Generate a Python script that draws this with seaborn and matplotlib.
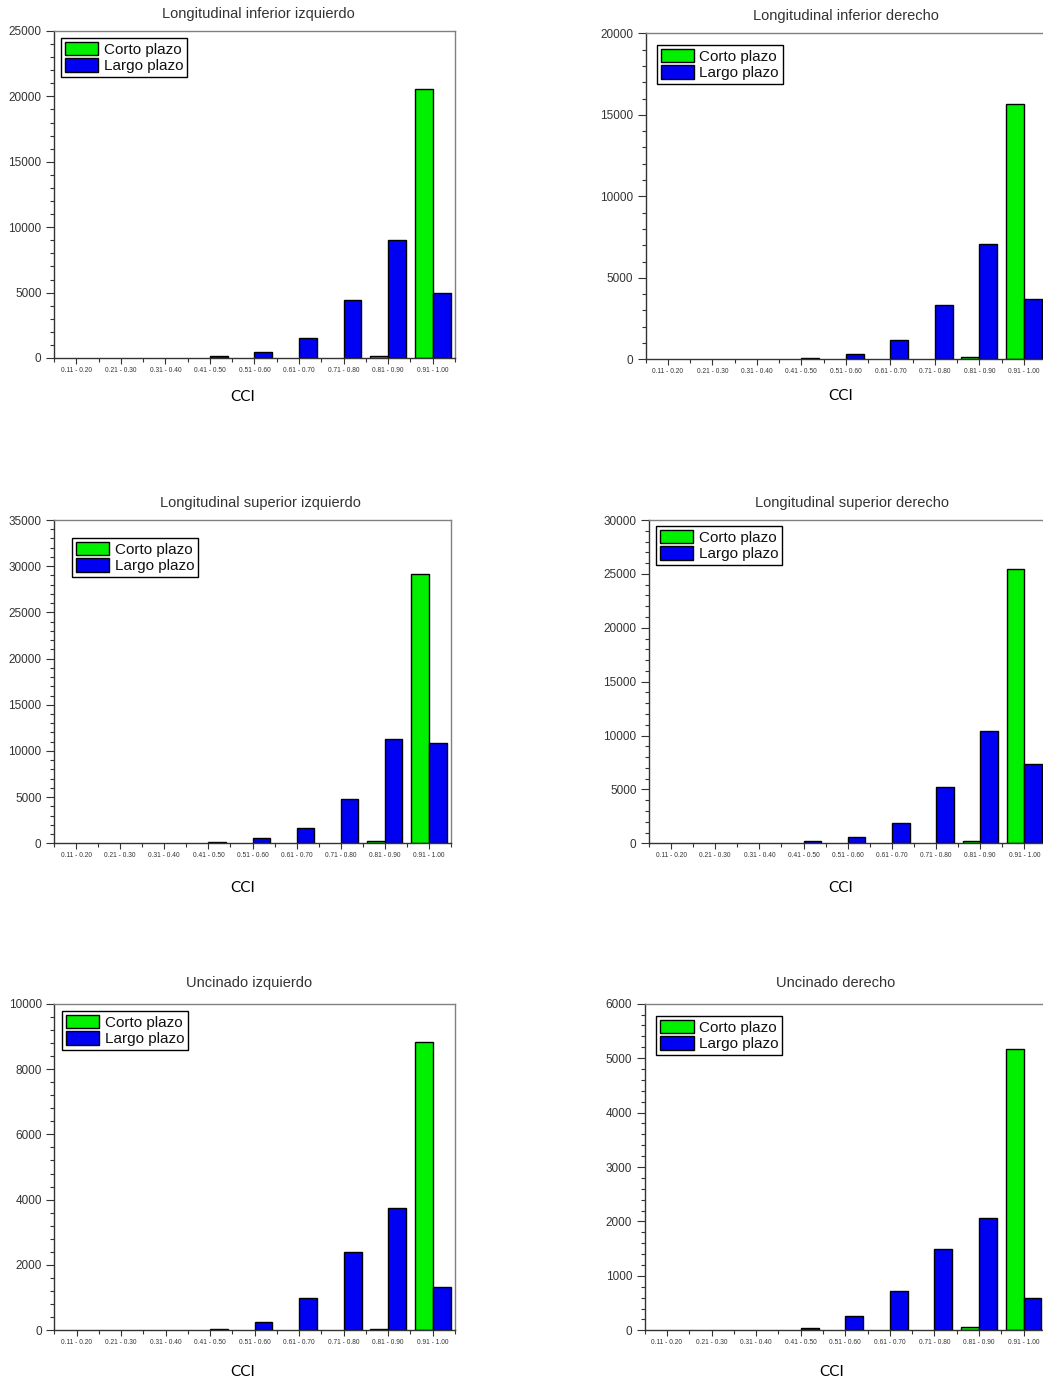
import matplotlib
matplotlib.use("Agg")
import matplotlib.pyplot as plt
from matplotlib.ticker import MultipleLocator, FixedLocator
import numpy as np
import pandas as pd
import seaborn as sns

# CCI bins shared by every panel
categories = ['0.11 - 0.20', '0.21 - 0.30', '0.31 - 0.40', '0.41 - 0.50',
              '0.51 - 0.60', '0.61 - 0.70', '0.71 - 0.80', '0.81 - 0.90',
              '0.91 - 1.00']
series_names = ['Corto plazo', 'Largo plazo']

# Counts per tract
lii_corto = [0, 0, 0, 0, 0, 0, 0, 130, 20530]
lii_largo = [0, 0, 0, 130, 490, 1560, 4450, 9010, 4980]

lid_corto = [0, 0, 0, 0, 0, 0, 0, 120, 15670]
lid_largo = [0, 0, 0, 60, 310, 1190, 3330, 7060, 3700]

lsi_corto = [0, 0, 0, 0, 0, 0, 0, 220, 29150]
lsi_largo = [0, 0, 0, 100, 540, 1620, 4840, 11260, 10830]

lsd_corto = [0, 0, 0, 0, 0, 0, 0, 190, 25450]
lsd_largo = [0, 0, 0, 190, 590, 1890, 5230, 10390, 7330]

ui_corto = [0, 0, 0, 0, 0, 0, 0, 30, 8820]
ui_largo = [0, 0, 0, 50, 250, 980, 2400, 3740, 1340]

ud_corto = [0, 0, 0, 0, 0, 0, 0, 60, 5160]
ud_largo = [0, 0, 0, 50, 260, 720, 1490, 2060, 590]

titles = ['Longitudinal inferior izquierdo', 'Longitudinal inferior derecho',
          'Longitudinal superior izquierdo', 'Longitudinal superior derecho',
          'Uncinado izquierdo', 'Uncinado derecho']
corto_values = [lii_corto, lid_corto, lsi_corto, lsd_corto, ui_corto, ud_corto]
largo_values = [lii_largo, lid_largo, lsi_largo, lsd_largo, ui_largo, ud_largo]
y_max = [25000, 20000, 35000, 30000, 10000, 6000]
y_step = [5000, 5000, 5000, 5000, 2000, 1000]

# Layout in pixels: axes box (x0, x1, ytop, ybottom), title centre, legend corner, xlabel centre
W, H = 1043, 1384
layout = [
    dict(box=(54, 455, 31, 358), title=(258, 14), legend=(61, 38), xlab=(243, 397)),
    dict(box=(645.7, 1046, 33.3, 359.3), title=(846, 15.7), legend=(656.7, 45), xlab=(840.5, 396.5)),
    dict(box=(54, 451, 520, 843.3), title=(260, 503.3), legend=(72, 537.7), xlab=(243, 887.5)),
    dict(box=(649, 1046.4, 520, 843.3), title=(851.7, 503.3), legend=(656, 526), xlab=(840.5, 887.5)),
    dict(box=(54.3, 455, 1003.7, 1330.3), title=(249.3, 983.3), legend=(62, 1010.7), xlab=(243, 1372.5)),
    dict(box=(644.7, 1045.8, 1003.7, 1330.3), title=(836, 983.3), legend=(656.3, 1016), xlab=(831.3, 1372.5)),
]

sns.set_theme(style="white")
plt.rcParams['font.family'] = ['Liberation Sans', 'DejaVu Sans']

palette = {'Corto plazo': '#00f000', 'Largo plazo': '#0000f2'}
text_gray = '#333333'

fig = plt.figure(figsize=(W / 100, H / 100), dpi=100)
fig.patch.set_facecolor('white')

for i in range(6):
    lay = layout[i]
    x0, x1, yt, yb = lay['box']
    ax = fig.add_axes([x0 / W, 1 - yb / H, (x1 - x0) / W, (yb - yt) / H])

    df = pd.DataFrame({
        'CCI': categories * 2,
        'valor': list(corto_values[i]) + list(largo_values[i]),
        'plazo': [series_names[0]] * len(categories) + [series_names[1]] * len(categories),
    })
    sns.barplot(data=df, x='CCI', y='valor', hue='plazo', order=categories,
                hue_order=series_names, palette=palette, saturation=1,
                width=0.8, edgecolor='black', linewidth=1.0, ax=ax,
                errorbar=None)

    ax.set_xlim(-0.5, len(categories) - 0.5)
    ax.set_ylim(0, y_max[i])
    ax.yaxis.set_major_locator(MultipleLocator(y_step[i]))
    ax.yaxis.set_minor_locator(MultipleLocator(y_step[i] / 5))
    ax.xaxis.set_minor_locator(FixedLocator(np.arange(-0.5, len(categories), 1.0)))

    ax.tick_params(axis='y', which='major', direction='out', length=6, width=0.8,
                   color='#333333', labelsize=8.5, labelcolor=text_gray, pad=3, left=True)
    ax.tick_params(axis='y', which='minor', direction='out', length=3, width=0.8,
                   color='#333333', left=True)
    ax.tick_params(axis='x', which='major', direction='out', length=4, width=0.8,
                   color='#333333', labelsize=4.8, labelcolor=text_gray, pad=2.5, bottom=True)
    ax.tick_params(axis='x', which='minor', direction='out', length=3, width=0.8,
                   color='#333333', bottom=True)

    for side in ['left', 'bottom']:
        ax.spines[side].set_color('#333333')
        ax.spines[side].set_linewidth(1.0)
    for side in ['top', 'right']:
        ax.spines[side].set_color('#808080')
        ax.spines[side].set_linewidth(1.0)

    # title
    tx, ty = lay['title']
    ax.set_title(titles[i], fontsize=10.5, color=text_gray, pad=0,
                 x=(tx - x0) / (x1 - x0), y=1 + (yt - ty) / (yb - yt), va='center')

    # x label
    ax.set_xlabel('CCI', fontsize=11, family=['Lato', 'DejaVu Sans'], color='black')
    lx, ly = lay['xlab']
    ax.xaxis.set_label_coords((lx - x0) / (x1 - x0), -(ly - yb) / (yb - yt))
    ax.xaxis.label.set_va('center')
    ax.set_ylabel('')

    # legend (built before empty bins are hidden so its swatches stay visible)
    handles, labels = ax.get_legend_handles_labels()
    if ax.get_legend() is not None:
        ax.get_legend().remove()
    gx, gy = lay['legend']
    leg = ax.legend(handles, labels, loc='upper left',
                    bbox_to_anchor=((gx - x0) / (x1 - x0), 1 - (gy - yt) / (yb - yt)),
                    borderaxespad=0, frameon=True, fancybox=False, framealpha=1,
                    edgecolor='black', fontsize=11, handlelength=2.2,
                    handleheight=1.0, handletextpad=0.35, labelspacing=0.1,
                    borderpad=0.25)
    leg.get_frame().set_linewidth(1.0)
    for t in leg.get_texts():
        t.set_color('#111111')
    for h in leg.legend_handles:
        h.set_visible(True)
        h.set_edgecolor('black')
        h.set_linewidth(1.0)

    # empty bins draw nothing
    for bar in ax.patches:
        if bar.get_height() == 0:
            bar.set_visible(False)

fig.savefig('out.png', dpi=100, facecolor='white')
